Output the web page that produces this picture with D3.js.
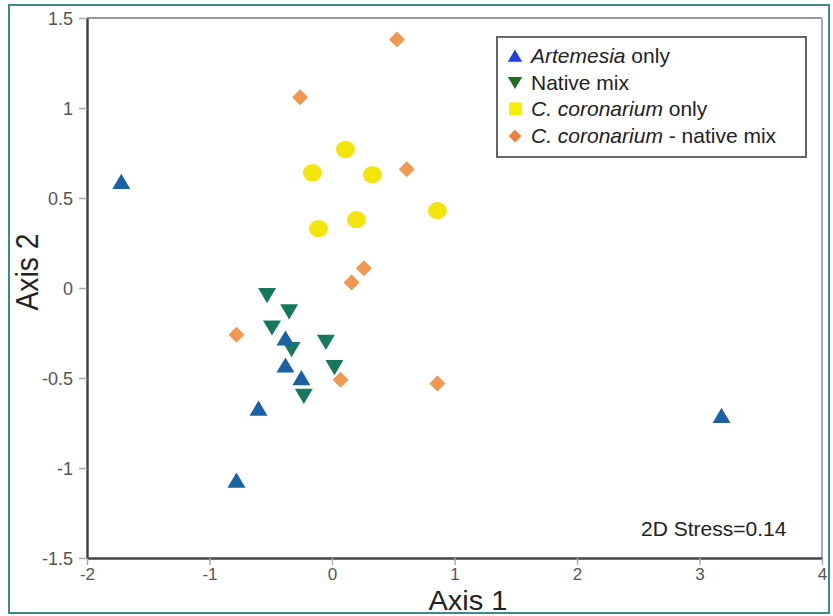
<!DOCTYPE html>
<html>
<head>
<meta charset="utf-8">
<script src="https://cdn.jsdelivr.net/npm/d3@7"></script>
<style>
  html, body { margin: 0; padding: 0; background: #fff; }
  svg { display: block; font-family: Arial, "Liberation Sans", sans-serif; }
</style>
</head>
<body>
<svg id="chart" width="833" height="616"></svg>
<script>
// ---- data ----
const artemesiaX = [-1.72, 3.18, -0.78, -0.60, -0.38, -0.38, -0.25];
const artemesiaY = [0.59, -0.71, -1.07, -0.67, -0.28, -0.43, -0.50];
const nativeX = [-0.53, -0.35, -0.49, -0.33, -0.05, 0.02, -0.23];
const nativeY = [-0.04, -0.13, -0.22, -0.34, -0.30, -0.44, -0.60];
const coronariumX = [0.11, -0.16, 0.33, 0.86, 0.20, -0.11];
const coronariumY = [0.77, 0.64, 0.63, 0.43, 0.38, 0.33];
const mixX = [0.53, -0.26, 0.61, 0.26, 0.16, -0.78, 0.07, 0.86];
const mixY = [1.38, 1.06, 0.66, 0.11, 0.03, -0.26, -0.51, -0.53];
const xTicks = [-2, -1, 0, 1, 2, 3, 4];
const yTicks = [-1.5, -1, -0.5, 0, 0.5, 1, 1.5];
const legendLabels = [
  { italic: "Artemesia", rest: " only" },
  { italic: "", rest: "Native mix" },
  { italic: "C. coronarium", rest: " only" },
  { italic: "C. coronarium", rest: " - native mix" }
];
const stressText = "2D Stress=0.14";

// ---- layout ----
const svg = d3.select("#chart");
const L = 87, R = 822, T = 18, B = 558;
const x = d3.scaleLinear().domain([-2, 4]).range([L, R]);
const y = d3.scaleLinear().domain([-1.5, 1.5]).range([B, T]);

// outer teal frame
svg.append("rect").attr("x", 9).attr("y", 5).attr("width", 820).attr("height", 608)
  .attr("fill", "#fff").attr("stroke", "#3d8b8b").attr("stroke-width", 2);

// plot box (top/right light)
svg.append("line").attr("x1", L).attr("x2", R).attr("y1", T).attr("y2", T)
  .attr("stroke", "#999").attr("stroke-width", 2);
svg.append("line").attr("x1", R).attr("x2", R).attr("y1", T).attr("y2", B)
  .attr("stroke", "#aaa").attr("stroke-width", 2);

// axes
const fmt = d => String(d);
const xAxis = svg.append("g").attr("transform", `translate(0,${B})`)
  .call(d3.axisBottom(x).tickValues(xTicks).tickFormat(fmt).tickSizeInner(7).tickSizeOuter(0).tickPadding(3));
const yAxis = svg.append("g").attr("transform", `translate(${L},0)`)
  .call(d3.axisLeft(y).tickValues(yTicks).tickFormat(fmt).tickSizeInner(8).tickSizeOuter(0).tickPadding(6));
[xAxis, yAxis].forEach(g => {
  g.select(".domain").attr("stroke", "#444").attr("stroke-width", 2.5);
  g.selectAll(".tick line").attr("stroke", "#aaa").attr("stroke-width", 1.5);
  g.selectAll(".tick text").attr("fill", "#555").attr("font-size", 18)
    .attr("font-family", "Arial, 'Liberation Sans', sans-serif");
});
xAxis.selectAll(".tick text").attr("font-size", 17);
yAxis.selectAll(".tick text").attr("dy", "0.35em");

// axis titles
svg.append("text").attr("x", 468).attr("y", 610).attr("text-anchor", "middle")
  .attr("font-size", 28).attr("fill", "#222").attr("textLength", 79)
  .attr("lengthAdjust", "spacingAndGlyphs").text("Axis 1");
svg.append("text").attr("transform", "translate(38,272) rotate(-90)").attr("text-anchor", "middle")
  .attr("font-size", 31).attr("fill", "#222").attr("textLength", 77)
  .attr("lengthAdjust", "spacingAndGlyphs").text("Axis 2");

// symbols
const triUp = d3.symbol().type({ draw(ctx, size) {
  const w = 9, h = 8;
  ctx.moveTo(0, -h); ctx.lineTo(w, h * 0.9); ctx.lineTo(-w, h * 0.9); ctx.closePath();
}})();
const triDown = d3.symbol().type({ draw(ctx, size) {
  const w = 9, h = 8;
  ctx.moveTo(-w, -h * 0.9); ctx.lineTo(w, -h * 0.9); ctx.lineTo(0, h); ctx.closePath();
}})();
const diamond = d3.symbol().type({ draw(ctx, size) {
  const r = 8;
  ctx.moveTo(0, -r); ctx.lineTo(r, 0); ctx.lineTo(0, r); ctx.lineTo(-r, 0); ctx.closePath();
}})();

const gPts = svg.append("g");

gPts.selectAll(".mix").data(d3.zip(mixX, mixY)).join("path")
  .attr("d", diamond).attr("fill", "#ee9852")
  .attr("transform", d => `translate(${x(d[0])},${y(d[1])})`);
gPts.selectAll(".cor").data(d3.zip(coronariumX, coronariumY)).join("ellipse")
  .attr("cx", d => x(d[0])).attr("cy", d => y(d[1])).attr("rx", 9.5).attr("ry", 8.7)
  .attr("fill", "#f3e50c");
gPts.selectAll(".nat").data(d3.zip(nativeX, nativeY)).join("path")
  .attr("d", triDown).attr("fill", "#17785e")
  .attr("transform", d => `translate(${x(d[0])},${y(d[1])})`);
gPts.selectAll(".art").data(d3.zip(artemesiaX, artemesiaY)).join("path")
  .attr("d", triUp).attr("fill", "#1b62a2")
  .attr("transform", d => `translate(${x(d[0])},${y(d[1])})`);

// legend
const lg = svg.append("g");
lg.append("rect").attr("x", 497).attr("y", 37).attr("width", 309).attr("height", 120)
  .attr("fill", "#fff").attr("stroke", "#666").attr("stroke-width", 2);
const legendColors = ["#2040d8", "#1f6e22", "#f5f000", "#f08040"];
const legendShapes = [triUp, triDown, null, diamond];
legendLabels.forEach((lab, i) => {
  const cy = 56 + i * 26.7;
  if (i === 2) {
    lg.append("rect").attr("x", 509).attr("y", cy - 7).attr("width", 13).attr("height", 13)
      .attr("fill", legendColors[i]);
  } else {
    lg.append("path").attr("d", legendShapes[i]).attr("fill", legendColors[i])
      .attr("transform", `translate(515,${cy}) scale(0.8)`);
  }
  const t = lg.append("text").attr("x", 531).attr("y", cy + 7).attr("font-size", 21).attr("fill", "#222");
  if (lab.italic) t.append("tspan").attr("font-style", "italic").text(lab.italic);
  t.append("tspan").text(lab.rest);
});

// stress
svg.append("text").attr("x", 641).attr("y", 536).attr("font-size", 21).attr("fill", "#222").text(stressText);
</script>
</body>
</html>
